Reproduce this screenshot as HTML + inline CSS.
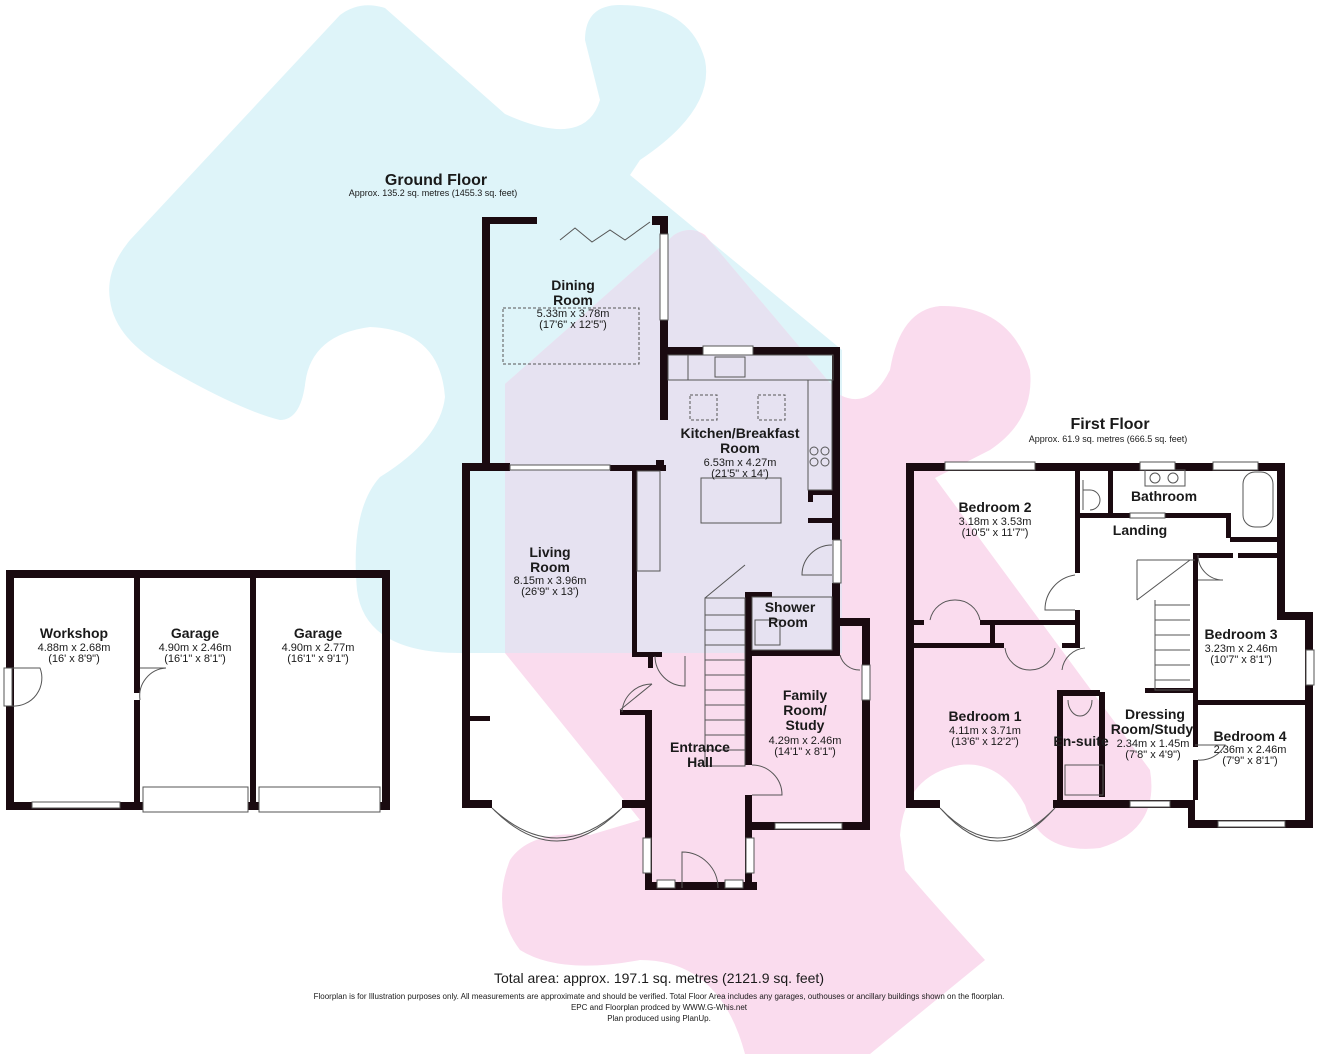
<!DOCTYPE html>
<html><head><meta charset="utf-8"><style>
html,body{margin:0;padding:0;background:#fff;}
svg{display:block;font-family:"Liberation Sans",Arial,sans-serif;}
.t{font-weight:bold;font-size:14px;fill:#1a1a1a;text-anchor:middle}
.d{font-size:11px;fill:#1a1a1a;text-anchor:middle}
.w{fill:#1a0a10}
.win{fill:#fff;stroke:#555;stroke-width:1}
.ln{fill:none;stroke:#555;stroke-width:1}
</style></head><body>
<svg width="1319" height="1054" viewBox="0 0 1319 1054" xmlns="http://www.w3.org/2000/svg">
<defs>
<path id="cy" d="M110,300 Q105,270 130,240 L340,15 Q360,0 385,8 L505,114 Q585,150 600,100 L585,40 Q585,5 620,5 Q690,5 705,60 Q715,110 640,160 L630,175 L842,350 L842,653 L460,653 Q365,653 357,590 Q350,510 380,477 Q440,440 445,397 Q440,330 370,327 Q310,335 305,385 Q300,420 280,420 Q240,410 170,370 Q115,340 110,300 Z"/>
<path id="pk" d="M505,384 L674,235 Q690,225 705,235 L840,395 Q870,410 890,370 Q900,310 940,306 Q1010,305 1030,370 Q1035,420 990,450 L935,478 L1150,770 Q1160,830 1100,848 Q1040,855 1025,805 Q1000,760 960,765 Q905,775 900,835 L905,870 Q930,900 985,960 L870,1054 L745,1054 Q720,960 640,960 Q560,975 520,950 Q490,910 510,860 Q530,830 590,835 L640,820 L505,653 Z"/>
<clipPath id="cc"><use href="#cy"/></clipPath>
</defs>
<use href="#cy" fill="#def4f9"/>
<use href="#pk" fill="#fadcee"/>
<use href="#pk" fill="#e6e2f1" clip-path="url(#cc)"/>

<text x="436" y="185" style="font-size:16px;font-weight:bold;fill:#1a1a1a;text-anchor:middle">Ground Floor</text>
<text x="433" y="196" style="font-size:9px;fill:#1a1a1a;text-anchor:middle">Approx. 135.2 sq. metres (1455.3 sq. feet)</text>
<text x="1110" y="429" style="font-size:16px;font-weight:bold;fill:#1a1a1a;text-anchor:middle">First Floor</text>
<text x="1108" y="442" style="font-size:9px;fill:#1a1a1a;text-anchor:middle">Approx. 61.9 sq. metres (666.5 sq. feet)</text>

<!-- OUTBUILDING -->
<g class="w">
<rect x="6" y="570" width="384" height="8"/>
<rect x="6" y="570" width="8" height="240"/>
<rect x="382" y="570" width="8" height="240"/>
<rect x="6" y="802" width="384" height="8"/>
<rect x="134" y="578" width="6" height="115"/>
<rect x="134" y="700" width="6" height="102"/>
<rect x="250" y="578" width="6" height="224"/>
</g>
<rect x="4" y="668" width="8" height="38" class="win"/>
<path class="ln" d="M12,668 L40,668 A28,28 0 0 1 12,706"/>
<path class="ln" d="M140,668 L166,668 A28,28 0 0 0 140,700"/>
<rect x="32" y="802" width="88" height="6" class="win"/>
<rect x="143" y="787" width="105" height="25" class="win"/>
<rect x="259" y="787" width="121" height="25" class="win"/>
<text x="74" y="638" class="t">Workshop</text>
<text x="74" y="651" class="d">4.88m x 2.68m</text>
<text x="74" y="662" class="d">(16' x 8'9")</text>
<text x="195" y="638" class="t">Garage</text>
<text x="195" y="651" class="d">4.90m x 2.46m</text>
<text x="195" y="662" class="d">(16'1" x 8'1")</text>
<text x="318" y="638" class="t">Garage</text>
<text x="318" y="651" class="d">4.90m x 2.77m</text>
<text x="318" y="662" class="d">(16'1" x 9'1")</text>

<!-- GROUND FLOOR -->
<g class="w">
<rect x="482" y="217" width="8" height="252"/>
<rect x="482" y="217" width="55" height="7"/>
<rect x="652" y="216" width="16" height="9"/>
<rect x="660" y="216" width="8" height="18"/>
<rect x="660" y="320" width="8" height="100"/>
<rect x="660" y="347" width="180" height="8"/>
<rect x="832" y="347" width="8" height="193"/>
<rect x="832" y="583" width="8" height="40"/>
<rect x="808" y="490" width="24" height="5"/>
<rect x="808" y="518" width="24" height="5"/>
<rect x="808" y="490" width="5" height="12"/>
<rect x="462" y="463" width="48" height="8"/>
<rect x="610" y="465" width="56" height="6"/>
<rect x="656" y="460" width="8" height="10"/>
<rect x="462" y="463" width="8" height="345"/>
<rect x="462" y="800" width="30" height="8"/>
<rect x="470" y="716" width="20" height="5"/>
<rect x="622" y="800" width="30" height="8"/>
<rect x="632" y="471" width="5" height="185"/>
<rect x="632" y="652" width="30" height="5"/>
<rect x="648" y="652" width="5" height="16"/>
<rect x="620" y="710" width="32" height="5"/>
<rect x="645" y="710" width="7" height="180"/>
<rect x="645" y="882" width="112" height="8"/>
<rect x="745" y="592" width="7" height="173"/>
<rect x="745" y="795" width="7" height="95"/>
<rect x="752" y="592" width="20" height="5"/>
<rect x="752" y="650" width="86" height="6"/>
<rect x="832" y="592" width="8" height="64"/>
<rect x="838" y="618" width="32" height="8"/>
<rect x="862" y="618" width="8" height="212"/>
<rect x="745" y="822" width="125" height="8"/>
</g>
<rect x="660" y="234" width="8" height="86" class="win"/>
<path class="ln" d="M560,240 L575,228 L592,242 L610,230 L625,240 L650,222" stroke-width="2"/>
<rect x="703" y="346" width="50" height="9" class="win"/>
<rect x="510" y="465" width="100" height="5" class="win"/>
<rect x="833" y="540" width="8" height="43" class="win"/>
<rect x="862" y="665" width="8" height="35" class="win"/>
<rect x="775" y="823" width="67" height="6" class="win"/>
<rect x="643" y="838" width="8" height="35" class="win"/>
<rect x="746" y="838" width="8" height="35" class="win"/>
<rect x="657" y="880" width="18" height="8" class="win"/>
<rect x="725" y="880" width="18" height="8" class="win"/>
<path class="ln" d="M492,808 Q557,868 622,808"/>
<path class="ln" d="M494,810 Q557,872 620,810"/>
<path class="ln" d="M682,888 L682,852 A36,36 0 0 1 718,888"/>
<path class="ln" d="M652,684 L620,710 M652,684 A30,30 0 0 0 622,712"/>
<path class="ln" d="M655,656 A30,30 0 0 0 685,686 L685,656"/>
<path class="ln" d="M752,765 A30,30 0 0 1 782,795 L752,795"/>
<path class="ln" d="M832,545 A30,30 0 0 0 802,575 L832,575"/>
<path class="ln" d="M840,655 A20,20 0 0 0 860,670"/>
<rect x="637" y="471" width="23" height="100" class="ln"/>
<rect x="668" y="355" width="165" height="25" class="ln"/>
<rect x="668" y="355" width="20" height="25" class="ln"/>
<rect x="715" y="357" width="30" height="20" class="ln"/>
<rect x="808" y="380" width="24" height="110" class="ln"/>
<circle cx="814" cy="451" r="4" class="ln"/><circle cx="825" cy="451" r="4" class="ln"/>
<circle cx="814" cy="462" r="4" class="ln"/><circle cx="825" cy="462" r="4" class="ln"/>
<rect x="701" y="478" width="80" height="45" class="ln"/>
<rect x="690" y="395" width="27" height="25" class="ln" stroke-dasharray="3,2"/>
<rect x="758" y="395" width="27" height="25" class="ln" stroke-dasharray="3,2"/>
<rect x="503" y="308" width="136" height="56" class="ln" stroke-dasharray="3,2"/>
<g class="ln">
<rect x="705" y="598" width="40" height="168"/>
<path d="M705,615 H745 M705,630 H745 M705,645 H745 M705,660 H745 M705,675 H745 M705,690 H745 M705,705 H745 M705,720 H745 M705,735 H745 M705,750 H745 M705,598 L745,565"/>
</g>
<rect x="752" y="597" width="80" height="53" class="ln"/>
<rect x="755" y="620" width="25" height="25" class="ln"/>
<text x="573" y="290" class="t">Dining</text>
<text x="573" y="305" class="t">Room</text>
<text x="573" y="317" class="d">5.33m x 3.78m</text>
<text x="573" y="328" class="d">(17'6" x 12'5")</text>
<text x="740" y="438" class="t">Kitchen/Breakfast</text>
<text x="740" y="453" class="t">Room</text>
<text x="740" y="466" class="d">6.53m x 4.27m</text>
<text x="740" y="477" class="d">(21'5" x 14')</text>
<text x="550" y="557" class="t">Living</text>
<text x="550" y="572" class="t">Room</text>
<text x="550" y="584" class="d">8.15m x 3.96m</text>
<text x="550" y="595" class="d">(26'9" x 13')</text>
<text x="790" y="612" class="t">Shower</text>
<text x="788" y="627" class="t">Room</text>
<text x="805" y="700" class="t">Family</text>
<text x="805" y="715" class="t">Room/</text>
<text x="805" y="730" class="t">Study</text>
<text x="805" y="744" class="d">4.29m x 2.46m</text>
<text x="805" y="755" class="d">(14'1" x 8'1")</text>
<text x="700" y="752" class="t">Entrance</text>
<text x="700" y="767" class="t">Hall</text>

<!-- FIRST FLOOR -->
<g class="w">
<rect x="906" y="463" width="379" height="8"/>
<rect x="906" y="463" width="8" height="345"/>
<rect x="1277" y="463" width="8" height="155"/>
<rect x="1277" y="612" width="36" height="8"/>
<rect x="1305" y="612" width="8" height="216"/>
<rect x="906" y="800" width="34" height="8"/>
<rect x="1053" y="800" width="140" height="8"/>
<rect x="1188" y="800" width="7" height="28"/>
<rect x="1188" y="820" width="125" height="8"/>
<rect x="1075" y="471" width="5" height="50"/>
<rect x="1075" y="513" width="155" height="5"/>
<rect x="1075" y="518" width="5" height="55"/>
<rect x="1075" y="610" width="5" height="35"/>
<rect x="1226" y="513" width="5" height="25"/>
<rect x="1230" y="537" width="47" height="5"/>
<rect x="1193" y="555" width="5" height="192"/>
<rect x="1193" y="553" width="40" height="5"/>
<rect x="1238" y="553" width="39" height="5"/>
<rect x="1193" y="700" width="112" height="5"/>
<rect x="1145" y="688" width="50" height="5"/>
<rect x="1193" y="760" width="5" height="40"/>
<rect x="914" y="620" width="10" height="5"/>
<rect x="980" y="620" width="100" height="5"/>
<rect x="914" y="643" width="90" height="5"/>
<rect x="990" y="620" width="5" height="25"/>
<rect x="1062" y="643" width="18" height="5"/>
<rect x="1057" y="690" width="43" height="6"/>
<rect x="1057" y="690" width="6" height="110"/>
<rect x="1108" y="471" width="5" height="42"/>
<rect x="1099" y="692" width="6" height="105"/>
</g>
<rect x="945" y="462" width="90" height="8" class="win"/>
<rect x="1140" y="462" width="35" height="8" class="win"/>
<rect x="1213" y="462" width="45" height="8" class="win"/>
<rect x="1130" y="513" width="35" height="5" class="win"/>
<rect x="1306" y="650" width="8" height="35" class="win"/>
<rect x="1130" y="801" width="40" height="6" class="win"/>
<rect x="1218" y="821" width="67" height="6" class="win"/>
<path class="ln" d="M940,808 Q997,868 1055,808"/>
<path class="ln" d="M942,810 Q997,872 1053,810"/>
<path class="ln" d="M1075,575 A35,35 0 0 0 1045,610 L1075,610"/>
<path class="ln" d="M1198,555 A25,25 0 0 0 1223,580 L1198,580"/>
<path class="ln" d="M930,620 A25,25 0 0 1 955,600 M980,620 A25,25 0 0 0 955,600"/>
<path class="ln" d="M1005,648 A25,25 0 0 0 1030,670 M1055,648 A25,25 0 0 1 1030,670"/>
<path class="ln" d="M1062,670 A25,25 0 0 1 1085,648"/>
<path class="ln" d="M1195,745 L1225,745 A28,28 0 0 1 1198,760"/>
<rect x="1243" y="472" width="30" height="55" class="ln" rx="12"/>
<rect x="1145" y="470" width="40" height="16" class="ln"/>
<circle cx="1155" cy="478" r="5" class="ln"/><circle cx="1173" cy="478" r="5" class="ln"/>
<path class="ln" d="M1083,480 V510 M1083,490 H1090 A10,10 0 0 1 1090,510"/>
<rect x="1065" y="765" width="38" height="30" class="ln"/>
<path class="ln" d="M1068,700 A12,16 0 0 0 1092,700"/>
<g class="ln">
<path d="M1137,560 H1195 M1137,560 V600 M1155,600 V690 H1190 M1155,605 H1190 M1155,620 H1190 M1155,635 H1190 M1155,650 H1190 M1155,665 H1190 M1155,680 H1190 M1137,600 L1190,560"/>
</g>
<text x="995" y="512" class="t">Bedroom 2</text>
<text x="995" y="525" class="d">3.18m x 3.53m</text>
<text x="995" y="536" class="d">(10'5" x 11'7")</text>
<text x="1164" y="501" class="t">Bathroom</text>
<text x="1140" y="535" class="t">Landing</text>
<text x="1241" y="639" class="t">Bedroom 3</text>
<text x="1241" y="652" class="d">3.23m x 2.46m</text>
<text x="1241" y="663" class="d">(10'7" x 8'1")</text>
<text x="985" y="721" class="t">Bedroom 1</text>
<text x="985" y="734" class="d">4.11m x 3.71m</text>
<text x="985" y="745" class="d">(13'6" x 12'2")</text>
<text x="1155" y="719" class="t">Dressing</text>
<text x="1152" y="734" class="t">Room/Study</text>
<text x="1153" y="747" class="d">2.34m x 1.45m</text>
<text x="1153" y="758" class="d">(7'8" x 4'9")</text>
<text x="1081" y="746" class="t">En-suite</text>
<text x="1250" y="741" class="t">Bedroom 4</text>
<text x="1250" y="753" class="d">2.36m x 2.46m</text>
<text x="1250" y="764" class="d">(7'9" x 8'1")</text>

<text x="659" y="983" style="font-size:14px;fill:#1a1a1a;text-anchor:middle">Total area: approx. 197.1 sq. metres (2121.9 sq. feet)</text>
<text x="659" y="999" style="font-size:8px;fill:#1a1a1a;text-anchor:middle">Floorplan is for Illustration purposes only. All measurements are approximate and should be verified. Total Floor Area includes any garages, outhouses or ancillary buildings shown on the floorplan.</text>
<text x="659" y="1010" style="font-size:8px;fill:#1a1a1a;text-anchor:middle">EPC and Floorplan prodced by WWW.G-Whis.net</text>
<text x="659" y="1021" style="font-size:8px;fill:#1a1a1a;text-anchor:middle">Plan produced using PlanUp.</text>
</svg>
</body></html>
